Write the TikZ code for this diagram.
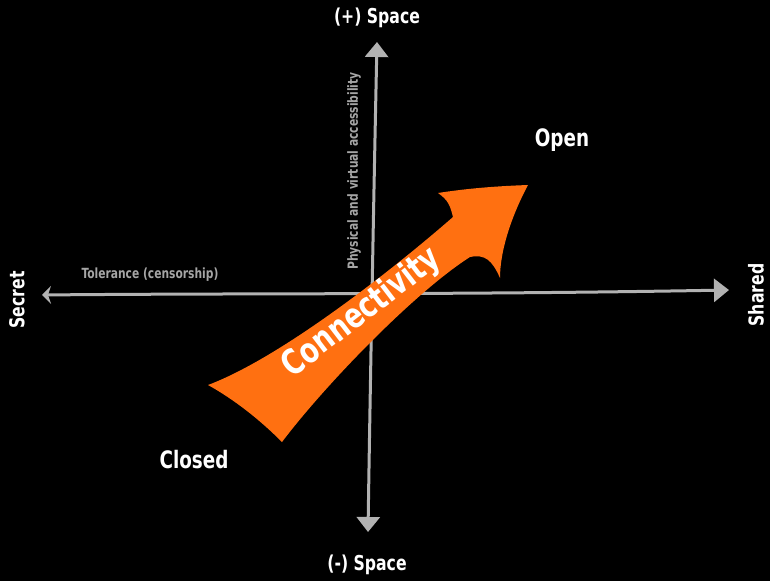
\documentclass[tikz,border=0pt]{standalone}
\usepackage{fontspec}
\setmainfont[FakeStretch=0.85]{DejaVu Sans Condensed}
\usepackage{xcolor}
\usetikzlibrary{arrows.meta, positioning, calc}

\definecolor{axisgrey}{RGB}{178,178,178}
\definecolor{notegrey}{RGB}{165,165,165}
\definecolor{connorange}{RGB}{255,112,17}

\begin{document}
\begin{tikzpicture}[x=1pt, y=-1pt,
    axis/.style={draw=axisgrey, line width=3pt},
    polelabel/.style={text=white, inner sep=0pt, font=\bfseries\fontsize{20.5}{23}\selectfont},
    quadlabel/.style={text=white, inner sep=0pt, font=\bfseries\fontsize{24}{27}\selectfont},
    axisnote/.style={text=notegrey, inner sep=0pt, font=\bfseries\fontsize{14}{16}\selectfont}]
    \fill[black] (0,0) rectangle (770,581);
    \useasboundingbox (0,0) rectangle (770,581);
    % axes
    \coordinate (west) at (42,295);
    \coordinate (east) at (729,290);
    \coordinate (north) at (377,42);
    \coordinate (south) at (368,532);
    \draw[axis, {Stealth[length=9pt,width=18pt,inset=3pt]}-{Triangle[length=15pt,width=23pt]}]
        (west) .. controls (250,293) and (450,295) .. (east);
    \draw[axis, {Triangle[length=15pt,width=23pt]}-{Triangle[length=15pt,width=23pt]}]
        (north) .. controls (374,180) and (370,400) .. (south);
    % labels
    \node[polelabel] (plus) at (377,18) {(+) Space};
    \node[polelabel] (minus) at (367,565) {(-) Space};
    \node[polelabel, rotate=90] (secret) at (17,300) {Secret};
    \node[polelabel, rotate=90] (shared) at (756,295) {Shared};
    \node[quadlabel] (open) at (562,140) {Open};
    \node[quadlabel] (closed) at (194,460) {Closed};
    \node[axisnote] (tolerance) at (150,275) {Tolerance (censorship)};
    \node[axisnote, rotate=90] (access) at (354,171) {Physical and virtual accessibility};
    % the big arrow
    \fill[connorange] (208,385) .. controls (280,358) and (390,272) .. (453,217)
        .. controls (450,205) and (448,200) .. (438,193)
        .. controls (470,188) and (500,186) .. (528,185)
        .. controls (512,215) and (500,250) .. (500,278)
        .. controls (492,260) and (485,254) .. (470,257)
        .. controls (415,292) and (325,385) .. (282,442)
        .. controls (260,420) and (235,400) .. (208,385) -- cycle;
    \node[text=white, inner sep=0pt, rotate=37.5, font=\bfseries\fontsize{35}{38}\selectfont]
        (conn) at (362,313) {Connectivity};
\end{tikzpicture}
\end{document}
